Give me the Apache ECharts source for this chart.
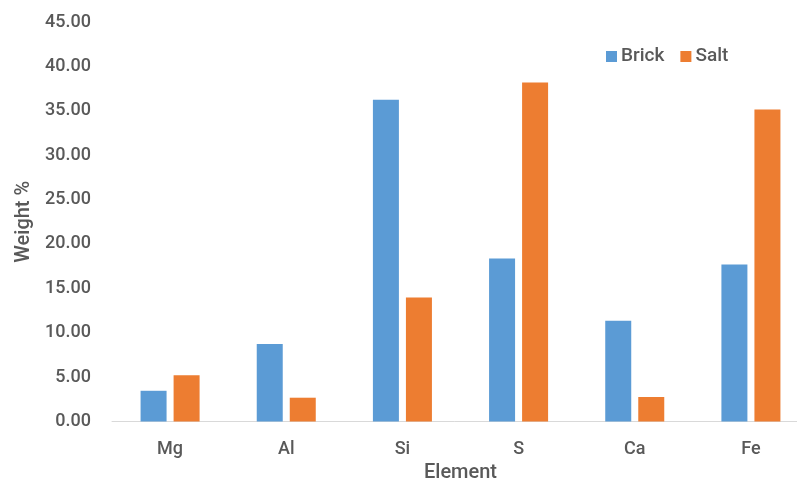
<!DOCTYPE html>
<html><head><meta charset="utf-8">
<script src="https://cdn.jsdelivr.net/npm/echarts@6/dist/echarts.min.js"></script>
<style>html,body{margin:0;padding:0;background:#fff}#c{width:797px;height:482px}</style>
</head><body><div id="c"></div>
<script>
const categories = ['Mg', 'Al', 'Si', 'S', 'Ca', 'Fe'];
const brick = [3.46, 8.72, 36.24, 18.36, 11.34, 17.68];
const salt = [5.20, 2.68, 13.97, 38.19, 2.76, 35.15];
const seriesNames = ['Brick', 'Salt'];

const chart = echarts.init(document.getElementById('c'), null, {renderer: 'canvas'});
const font = 'Roboto';
const txt = '#595959';
chart.setOption({
  animation: false,
  grid: {left: 112, top: 22, width: 697, height: 399.5, containLabel: false, outerBoundsMode: 'none'},
  legend: {
    data: seriesNames,
    left: 601, top: 42,
    itemWidth: 11, itemHeight: 11, itemGap: 16,
    icon: 'rect',
    textStyle: {color: txt, fontFamily: font, fontSize: 19, fontWeight: 500, padding: [0, 0, 0, -1]}
  },
  xAxis: {
    type: 'category', data: categories,
    name: 'Element', nameLocation: 'middle', nameGap: 41,
    nameTextStyle: {color: txt, fontFamily: font, fontSize: 20, fontWeight: 500},
    axisLine: {lineStyle: {color: '#d9d9d9', width: 1}},
    axisTick: {show: false},
    axisLabel: {color: txt, fontFamily: font, fontSize: 18, fontWeight: 500, margin: 19}
  },
  yAxis: {
    type: 'value', min: 0, max: 45, interval: 5,
    name: 'Weight %', nameLocation: 'middle', nameGap: 78,
    nameTextStyle: {color: txt, fontFamily: font, fontSize: 20, fontWeight: 500},
    axisLine: {show: false}, axisTick: {show: false},
    splitLine: {show: false},
    axisLabel: {color: txt, fontFamily: font, fontSize: 18, fontWeight: 500, margin: 21,
      formatter: v => v.toFixed(2)}
  },
  series: [
    {name: seriesNames[0], type: 'bar', data: brick, barWidth: 26, barGap: '27%',
     itemStyle: {color: '#5B9BD5'}},
    {name: seriesNames[1], type: 'bar', data: salt, barWidth: 26,
     itemStyle: {color: '#ED7D31'}}
  ]
});
</script></body></html>
